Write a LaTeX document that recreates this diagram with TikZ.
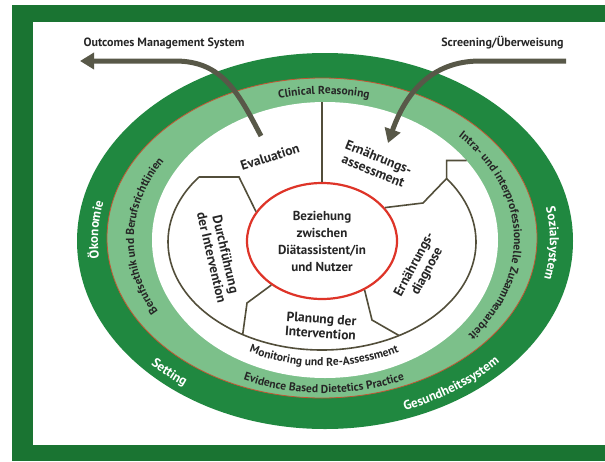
\documentclass[tikz,border=0pt]{standalone}
\usepackage{fontspec}
\setmainfont{PT Sans}
\usetikzlibrary{calc,arrows.meta,shapes.geometric,decorations.text}
\definecolor{framegreen}{RGB}{26,116,50}
\definecolor{ringgreen}{RGB}{32,136,64}
\definecolor{bandgreen}{RGB}{124,192,138}
\definecolor{seamred}{RGB}{196,86,52}
\definecolor{corered}{RGB}{222,52,40}
\definecolor{stepline}{RGB}{82,78,58}
\definecolor{arrowgray}{RGB}{88,88,72}
\newcommand\bandfont{\fontsize{11.5}{13}\selectfont\bfseries}
\newcommand\outerfont{\fontsize{13}{15}\selectfont\bfseries\addfontfeature{LetterSpace=5}}
\def\ringtext[#1](#2:#3:#4)#5{\path[decorate,decoration={text along path,text align=center,#1,text={#5}}] ($(ring)+(#2:#4)$) arc (#2:#3:#4);}

\begin{document}
\begin{tikzpicture}[x=1pt,y=-1pt,
		seg/.style={draw=stepline, line width=1.6pt},
		steplabel/.style={font=\fontsize{13.5}{14.5}\selectfont\bfseries, text=black!85, align=center},
		flow/.style={draw=arrowgray, line width=5pt, -{Triangle[length=14pt,width=16pt]}}]
		%%%%% START %%%%%
		\useasboundingbox (0,0) rectangle (605,461);
		
		\fill[framegreen] (12,5) rectangle (605,22);
		\fill[framegreen] (12,5) rectangle (33,461);
		\fill[framegreen] (12,445) rectangle (605,461);
		
		\coordinate (ring) at (324,240);
		\fill[ringgreen] (325,241) ellipse (248 and 188);
		\filldraw[fill=bandgreen, draw=seamred, line width=0.8pt] (322,238) ellipse (215 and 160);
		\fill[white] (325,240) ellipse (173 and 138);
		
		\ringtext[text color=white](143:223:226 and 170){|\outerfont|Ökonomie}
		\ringtext[text color=white](-40:42:226 and 170){|\outerfont|Sozialsystem}
		\ringtext[text color=white](150:114:238 and 181){|\outerfont|Setting}
		\ringtext[text color=white](85:25:238 and 181){|\outerfont|Gesundheitssystem}
		
		\ringtext[text color=black!85](240:300:190 and 146){|\bandfont|Clinical Reasoning}
		\ringtext[text color=black!85](118:245:190 and 146){|\bandfont|Berufsethik und Berufsrichtlinien}
		\ringtext[text color=black!85](-68:64:190 and 146){|\bandfont|Intra- und interprofessionelle Zusammenarbeit}
		\ringtext[text color=black!85](128:52:198 and 153){|\bandfont|Evidence Based Dietetics Practice}
		\ringtext[text color=black!85](128:52:163 and 126){|\bandfont|Monitoring und Re-Assessment}
		
		\node[ellipse, draw=corered, fill=white, line width=2.2pt, minimum width=150pt, minimum height=116pt,
			align=center, font=\fontsize{13}{17}\selectfont\bfseries, text=black!85] (core) at (322,241)
			{Beziehung\\zwischen\\Diätassistent/in\\und Nutzer};
		
		\coordinate (cycle) at (322,242);
		\coordinate (execcorner) at ($(cycle)+(217:154 and 108)$);
		\coordinate (diagcorner) at ($(cycle)+(-36:154 and 108)$);
		\coordinate (execfoot) at ($(cycle)+(121:154 and 108)$);
		\coordinate (planfoot) at ($(cycle)+(60:154 and 108)$);
		
		\draw[seg] (execcorner) arc (217:-36:154 and 108);
		\draw[seg] (execcorner) -- ++(40,0) -- (core.156);
		\draw[seg] (core.221) -- (247,303) -- (execfoot);
		\draw[seg] (core.311) -- (372,320) -- (planfoot);
		\draw[seg] (core.28) -- (423,203) -- (diagcorner) -- ++(0,-18) -- ++(20,0);
		\draw[seg] (core.north) -- (322,102);
		
		\node[steplabel, rotate=18] (eval) at (270,157) {Evaluation};
		\node[steplabel, rotate=-22] (assess) at (376,164) {Ernährungs-\\assessment};
		\node[steplabel, rotate=-77] (exec) at (219,256) {Durchführung\\der Intervention};
		\node[steplabel, rotate=62] (diag) at (421,268) {Ernährungs-\\diagnose};
		\node[steplabel, rotate=-4] (plan) at (321,326) {Planung der\\Intervention};
		
		\node[font=\fontsize{12}{13}\selectfont\bfseries, text=black!85, anchor=west] (outcomes) at (80,43) {Outcomes Management System};
		\node[font=\fontsize{12}{13}\selectfont\bfseries, text=black!85, anchor=east] (screening) at (567,43) {Screening/Überweisung};
		
		\coordinate (evalstart) at (261,136);
		\coordinate (outtip) at (80,61);
		\draw[flow] (evalstart) .. controls (238,92) and (222,61) .. (175,61) -- (outtip);
		
		\coordinate (screenstart) at (566,61);
		\coordinate (intotip) at (388,143);
		\draw[flow] (screenstart) -- (480,61) .. controls (430,61) and (405,95) .. (intotip);
		
		%%%%% END %%%%%
	\end{tikzpicture}
\end{document}
